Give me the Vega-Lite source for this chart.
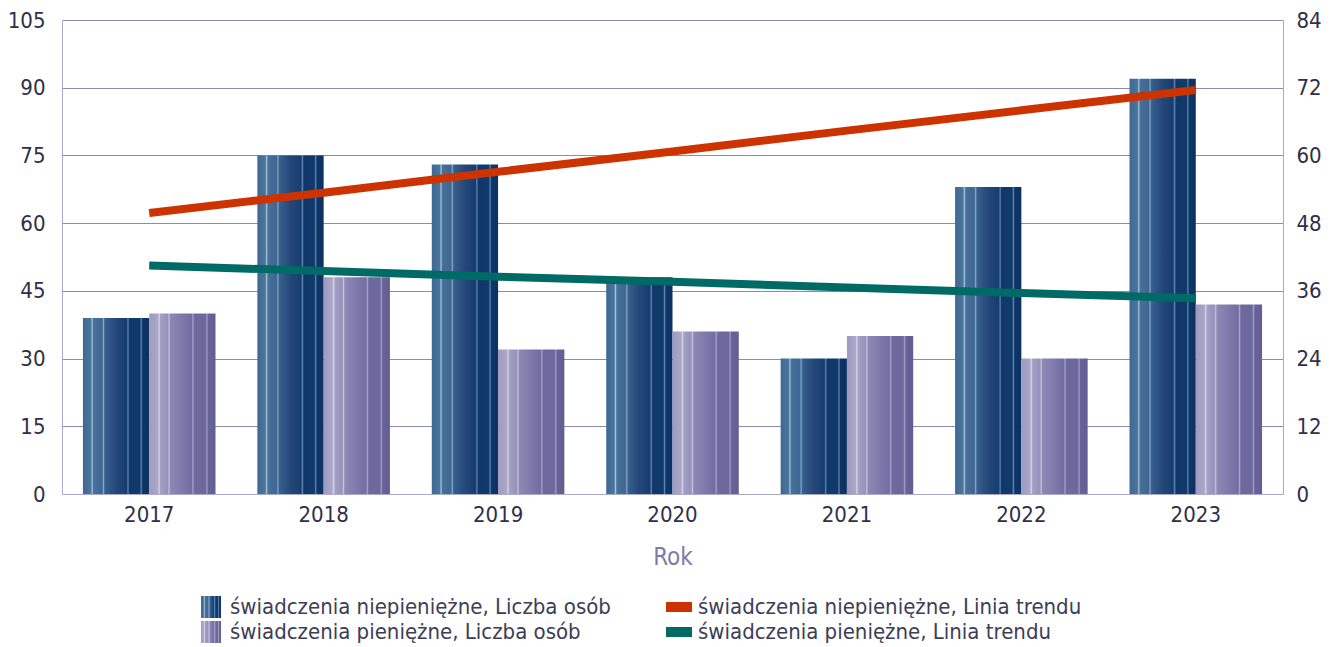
{
  "$schema": "https://vega.github.io/schema/vega-lite/v6.json",
  "autosize": {"type": "none"},
  "width": 1221,
  "height": 474,
  "padding": {"left": 62, "top": 20, "right": 55, "bottom": 153},
  "background": "white",
  "config": {
    "view": {"stroke": null},
    "font": "DejaVu Sans Condensed",
    "axis": {"labelFont": "DejaVu Sans Condensed", "labelFontSize": 22, "labelColor": "#2f2f48", "ticks": false, "domainColor": "#a9a9c9", "gridColor": "#8a8ab2", "gridOpacity": 1},
    "legend": {"labelFont": "DejaVu Sans Condensed", "labelFontSize": 22, "labelColor": "#3d3d56", "labelLimit": 0}
  },
  "data": {"values": [
    {"rok": "2017", "seria": "świadczenia niepieniężne, Liczba osób", "typ": "bar", "wartosc": 39},
    {"rok": "2018", "seria": "świadczenia niepieniężne, Liczba osób", "typ": "bar", "wartosc": 75},
    {"rok": "2019", "seria": "świadczenia niepieniężne, Liczba osób", "typ": "bar", "wartosc": 73},
    {"rok": "2020", "seria": "świadczenia niepieniężne, Liczba osób", "typ": "bar", "wartosc": 48},
    {"rok": "2021", "seria": "świadczenia niepieniężne, Liczba osób", "typ": "bar", "wartosc": 30},
    {"rok": "2022", "seria": "świadczenia niepieniężne, Liczba osób", "typ": "bar", "wartosc": 68},
    {"rok": "2023", "seria": "świadczenia niepieniężne, Liczba osób", "typ": "bar", "wartosc": 92},
    {"rok": "2017", "seria": "świadczenia pieniężne, Liczba osób", "typ": "bar", "wartosc": 40},
    {"rok": "2018", "seria": "świadczenia pieniężne, Liczba osób", "typ": "bar", "wartosc": 48},
    {"rok": "2019", "seria": "świadczenia pieniężne, Liczba osób", "typ": "bar", "wartosc": 32},
    {"rok": "2020", "seria": "świadczenia pieniężne, Liczba osób", "typ": "bar", "wartosc": 36},
    {"rok": "2021", "seria": "świadczenia pieniężne, Liczba osób", "typ": "bar", "wartosc": 35},
    {"rok": "2022", "seria": "świadczenia pieniężne, Liczba osób", "typ": "bar", "wartosc": 30},
    {"rok": "2023", "seria": "świadczenia pieniężne, Liczba osób", "typ": "bar", "wartosc": 42},
    {"rok": "2017", "seria": "świadczenia niepieniężne, Linia trendu", "typ": "line", "wartosc": 49.8},
    {"rok": "2018", "seria": "świadczenia niepieniężne, Linia trendu", "typ": "line", "wartosc": 53.4},
    {"rok": "2019", "seria": "świadczenia niepieniężne, Linia trendu", "typ": "line", "wartosc": 57.1},
    {"rok": "2020", "seria": "świadczenia niepieniężne, Linia trendu", "typ": "line", "wartosc": 60.7},
    {"rok": "2021", "seria": "świadczenia niepieniężne, Linia trendu", "typ": "line", "wartosc": 64.4},
    {"rok": "2022", "seria": "świadczenia niepieniężne, Linia trendu", "typ": "line", "wartosc": 68.0},
    {"rok": "2023", "seria": "świadczenia niepieniężne, Linia trendu", "typ": "line", "wartosc": 71.6},
    {"rok": "2017", "seria": "świadczenia pieniężne, Linia trendu", "typ": "line", "wartosc": 40.5},
    {"rok": "2018", "seria": "świadczenia pieniężne, Linia trendu", "typ": "line", "wartosc": 39.5},
    {"rok": "2019", "seria": "świadczenia pieniężne, Linia trendu", "typ": "line", "wartosc": 38.5},
    {"rok": "2020", "seria": "świadczenia pieniężne, Linia trendu", "typ": "line", "wartosc": 37.6},
    {"rok": "2021", "seria": "świadczenia pieniężne, Linia trendu", "typ": "line", "wartosc": 36.6},
    {"rok": "2022", "seria": "świadczenia pieniężne, Linia trendu", "typ": "line", "wartosc": 35.6},
    {"rok": "2023", "seria": "świadczenia pieniężne, Linia trendu", "typ": "line", "wartosc": 34.7}
  ]},
  "encoding": {
    "x": {
      "field": "rok", "type": "nominal",
      "scale": {"paddingInner": 0.24, "paddingOuter": 0.12},
      "axis": {"title": "Rok", "labelAngle": 0, "labelPadding": 10, "titleFont": "DejaVu Sans Condensed", "titleFontSize": 24, "titleFontWeight": "normal", "titleColor": "#7b7da6", "titlePadding": 20, "domain": true}
    }
  },
  "layer": [
    {
      "transform": [{"filter": "datum.seria == 'świadczenia niepieniężne, Liczba osób'"}],
      "mark": {"type": "bar", "strokeWidth": 0, "fill": {"gradient": "linear", "x1": 0, "y1": 0, "x2": 1, "y2": 0, "stops": [
            {"offset": 0, "color": "#3f6992"}, {"offset": 0.12, "color": "#4a759c"}, {"offset": 0.14, "color": "#a9c3d8"}, {"offset": 0.16, "color": "#47719a"},
            {"offset": 0.29, "color": "#3d6690"}, {"offset": 0.31, "color": "#8aa6c4"}, {"offset": 0.33, "color": "#36608e"},
            {"offset": 0.5, "color": "#244778"}, {"offset": 0.66, "color": "#163d6f"}, {"offset": 0.68, "color": "#5f86b2"}, {"offset": 0.70, "color": "#0f376a"},
            {"offset": 0.86, "color": "#113969"}, {"offset": 0.88, "color": "#5d86b4"}, {"offset": 0.90, "color": "#0e3566"}, {"offset": 1, "color": "#0c3263"}
          ]}},
      "encoding": {
        "xOffset": {"field": "seria", "type": "nominal", "scale": {"domain": ["świadczenia niepieniężne, Liczba osób", "świadczenia pieniężne, Liczba osób"], "paddingInner": 0, "paddingOuter": 0}},
        "y": {"field": "wartosc", "type": "quantitative", "scale": {"domain": [0, 105]},
          "axis": {"title": null, "values": [0, 15, 30, 45, 60, 75, 90, 105], "grid": true, "labelPadding": 17, "domain": true}}
      }
    },
    {
      "transform": [{"filter": "datum.seria == 'świadczenia pieniężne, Liczba osób'"}],
      "mark": {"type": "bar", "strokeWidth": 0, "fill": {"gradient": "linear", "x1": 0, "y1": 0, "x2": 1, "y2": 0, "stops": [
            {"offset": 0, "color": "#9d9abf"}, {"offset": 0.13, "color": "#aaa7c9"}, {"offset": 0.15, "color": "#d8d6ea"}, {"offset": 0.17, "color": "#a4a1c5"},
            {"offset": 0.28, "color": "#9591ba"}, {"offset": 0.30, "color": "#c6c3df"}, {"offset": 0.32, "color": "#8d89b5"},
            {"offset": 0.5, "color": "#7d79ab"}, {"offset": 0.64, "color": "#726ea2"}, {"offset": 0.66, "color": "#a6a3cc"}, {"offset": 0.68, "color": "#6e6a9f"},
            {"offset": 0.85, "color": "#6c689d"}, {"offset": 0.87, "color": "#a09dc8"}, {"offset": 0.89, "color": "#686498"}, {"offset": 1, "color": "#625e92"}
          ]}},
      "encoding": {
        "xOffset": {"field": "seria", "type": "nominal", "scale": {"domain": ["świadczenia niepieniężne, Liczba osób", "świadczenia pieniężne, Liczba osób"], "paddingInner": 0, "paddingOuter": 0}},
        "y": {"field": "wartosc", "type": "quantitative", "scale": {"domain": [0, 105]}, "axis": null}
      }
    },
    {
      "transform": [{"filter": "datum.typ == 'line'"}],
      "mark": {"type": "line", "strokeWidth": 8},
      "encoding": {
        "y": {"field": "wartosc", "type": "quantitative", "scale": {"domain": [0, 84]},
          "axis": {"title": null, "orient": "right", "values": [0, 12, 24, 36, 48, 60, 72, 84], "grid": false, "labelPadding": 13, "domain": true}},
        "color": {
          "field": "seria", "type": "nominal",
          "scale": {
            "domain": ["świadczenia niepieniężne, Liczba osób", "świadczenia niepieniężne, Linia trendu", "świadczenia pieniężne, Liczba osób", "świadczenia pieniężne, Linia trendu"],
            "range": ["#1d4474", "#cc3300", "#8480b0", "#006b66"]
          },
          "legend": {
            "title": null, "orient": "none", "legendX": 138, "legendY": 576, "direction": "horizontal", "columns": 2, "columnPadding": 55, "rowPadding": 3,
            "symbolSize": 400, "symbolOffset": 0, "labelOffset": 8,
            "encode": {"symbols": {"update": {
              "shape": {"signal": "indexof(datum.value, 'trendu') >= 0 ? 'M-1.3,-0.5H1.3V0.5H-1.3Z' : 'M-1,-1.1H1V1.1H-1Z'"},
              "size": {"value": 400},
              "fill": {"signal": "datum.value == 'świadczenia niepieniężne, Liczba osób' ? {gradient: 'linear', x1: 0, y1: 0, x2: 1, y2: 0, stops: [{offset: 0, color: '#3f6992'}, {offset: 0.12, color: '#4a759c'}, {offset: 0.16, color: '#a9c3d8'}, {offset: 0.22, color: '#47719a'}, {offset: 0.34, color: '#3d6690'}, {offset: 0.40, color: '#8aa6c4'}, {offset: 0.46, color: '#36608e'}, {offset: 0.62, color: '#163d6f'}, {offset: 0.68, color: '#5f86b2'}, {offset: 0.74, color: '#0f376a'}, {offset: 0.84, color: '#113969'}, {offset: 0.88, color: '#5d86b4'}, {offset: 0.93, color: '#0e3566'}, {offset: 1, color: '#0c3263'}]} : datum.value == 'świadczenia pieniężne, Liczba osób' ? {gradient: 'linear', x1: 0, y1: 0, x2: 1, y2: 0, stops: [{offset: 0, color: '#9d9abf'}, {offset: 0.12, color: '#aaa7c9'}, {offset: 0.16, color: '#d8d6ea'}, {offset: 0.22, color: '#a4a1c5'}, {offset: 0.34, color: '#9591ba'}, {offset: 0.40, color: '#c6c3df'}, {offset: 0.46, color: '#8d89b5'}, {offset: 0.62, color: '#726ea2'}, {offset: 0.68, color: '#a6a3cc'}, {offset: 0.74, color: '#6e6a9f'}, {offset: 0.84, color: '#6c689d'}, {offset: 0.88, color: '#a09dc8'}, {offset: 0.93, color: '#686498'}, {offset: 1, color: '#625e92'}]} : scale('color', datum.value)"},
              "strokeWidth": {"value": 0},
              "opacity": {"value": 1},
              "fillOpacity": {"value": 1}
            }}}
          }
        }
      }
    }
  ],
  "resolve": {"scale": {"y": "independent"}}
}
